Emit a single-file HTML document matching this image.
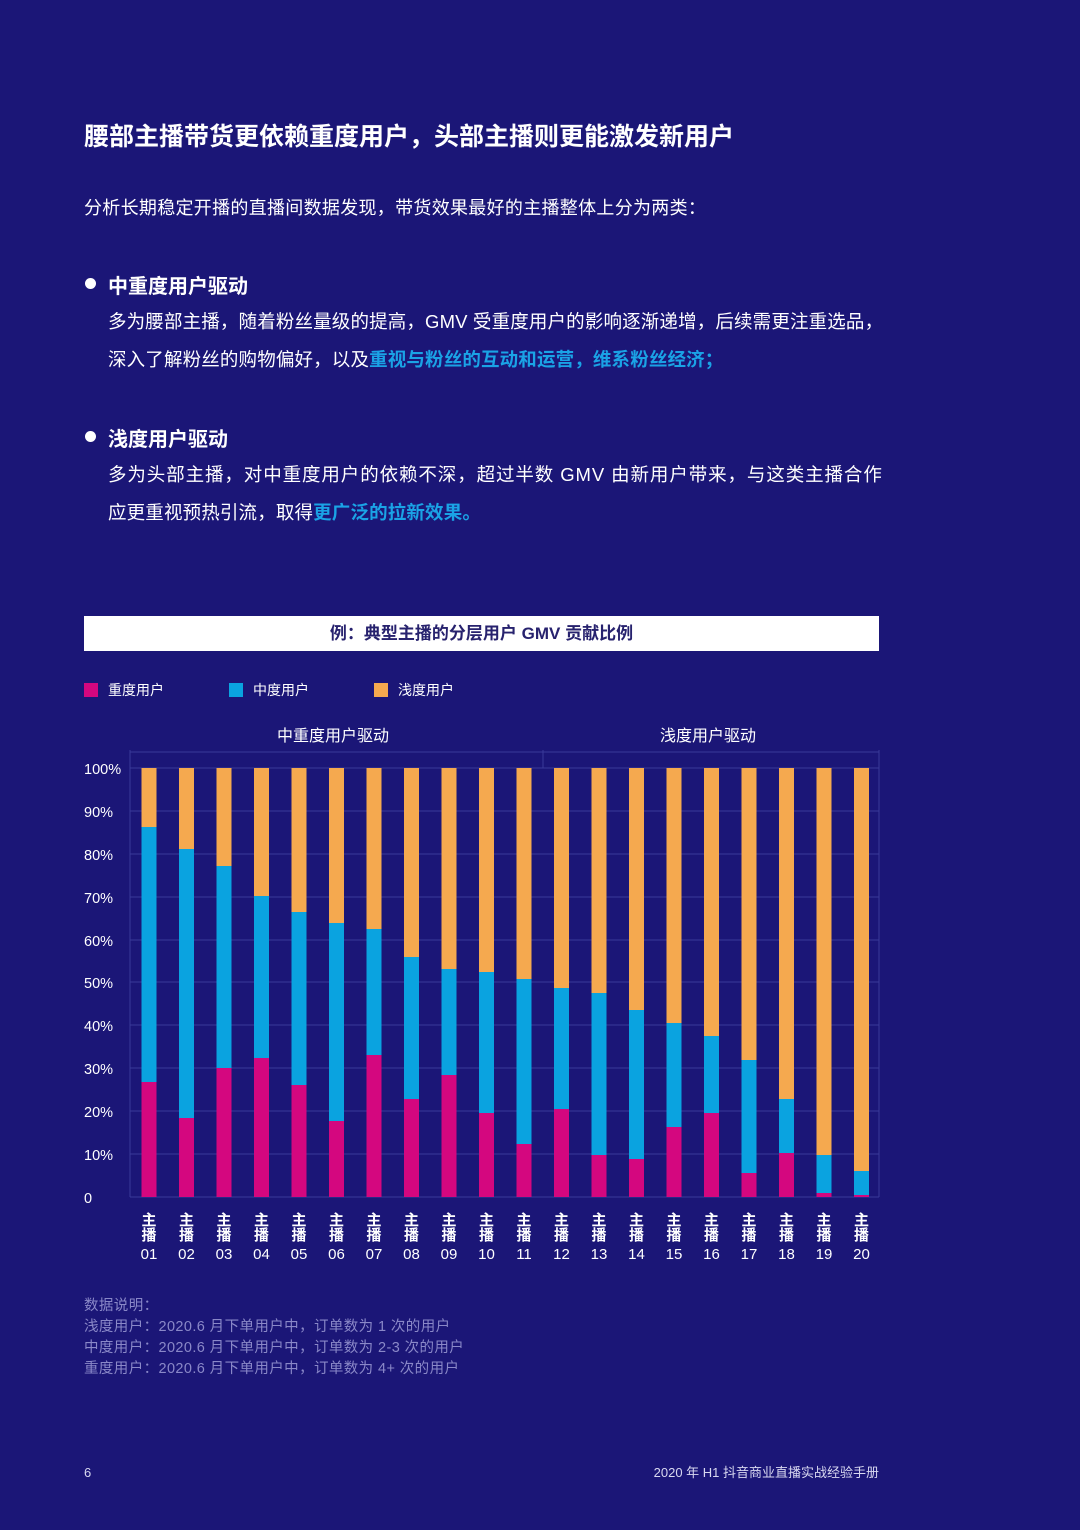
<!DOCTYPE html>
<html><head><meta charset="utf-8"><style>
*{margin:0;padding:0;box-sizing:border-box}
body{width:1080px;height:1530px;background:#1b1677;position:relative;overflow:hidden;font-family:"Liberation Sans","Noto Sans CJK SC",sans-serif;color:#fff}
.a{position:absolute;white-space:nowrap}
.h{color:#1aa3e6;font-weight:bold}
.dot{position:absolute;width:11px;height:11px;border-radius:50%;background:#fff}
</style></head><body>
<div class="a" style="left:84px;top:117px;font-size:25px;font-weight:bold">腰部主播带货更依赖重度用户，头部主播则更能激发新用户</div>
<div class="a" style="left:84px;top:194px;font-size:18px;letter-spacing:0.3px">分析长期稳定开播的直播间数据发现，带货效果最好的主播整体上分为两类：</div>
<div class="dot" style="left:85px;top:278px"></div>
<div class="a" style="left:108px;top:270px;font-size:20px;font-weight:bold">中重度用户驱动</div>
<div class="a" style="left:108px;top:308px;font-size:18.5px;letter-spacing:0.15px">多为腰部主播，随着粉丝量级的提高，GMV 受重度用户的影响逐渐递增，后续需更注重选品，</div>
<div class="a" style="left:108px;top:346px;font-size:18.5px;letter-spacing:0.15px">深入了解粉丝的购物偏好，以及<span class="h">重视与粉丝的互动和运营，维系粉丝经济；</span></div>
<div class="dot" style="left:85px;top:431px"></div>
<div class="a" style="left:108px;top:423px;font-size:20px;font-weight:bold">浅度用户驱动</div>
<div class="a" style="left:108px;top:461px;font-size:18.5px;letter-spacing:0.9px">多为头部主播，对中重度用户的依赖不深，超过半数 GMV 由新用户带来，与这类主播合作</div>
<div class="a" style="left:108px;top:499px;font-size:18.5px;letter-spacing:0.15px">应更重视预热引流，取得<span class="h">更广泛的拉新效果。</span></div>

<div class="a" style="left:84px;top:616px;width:795px;height:35px;background:#fff;color:#27226e;font-size:17px;font-weight:bold;text-align:center;line-height:35px">例：典型主播的分层用户 GMV 贡献比例</div>

<svg class="a" style="left:0;top:0" width="1080" height="1530" font-family="Liberation Sans,Noto Sans CJK SC,sans-serif">
<g font-size="14" fill="#fff">
<rect x="84" y="683" width="14" height="14" fill="#d4077f"/><text x="108" y="695">重度用户</text>
<rect x="229" y="683" width="14" height="14" fill="#0aa3e0"/><text x="253" y="695">中度用户</text>
<rect x="374" y="683" width="14" height="14" fill="#f5a94f"/><text x="398" y="695">浅度用户</text>
</g>
<g font-size="16" fill="#fff" text-anchor="middle">
<text x="333" y="741">中重度用户驱动</text><text x="708" y="741">浅度用户驱动</text>
</g>
<g stroke="#3a3a9a" stroke-width="1">
<line x1="130" y1="752" x2="879" y2="752"/><line x1="543" y1="750" x2="543" y2="768"/><line x1="879" y1="750" x2="879" y2="1197"/>
<line x1="130" y1="750" x2="130" y2="1197"/>
<line x1="130" y1="768" x2="879" y2="768"/><line x1="130" y1="811" x2="879" y2="811"/><line x1="130" y1="854" x2="879" y2="854"/><line x1="130" y1="897" x2="879" y2="897"/><line x1="130" y1="940" x2="879" y2="940"/><line x1="130" y1="982" x2="879" y2="982"/><line x1="130" y1="1025" x2="879" y2="1025"/><line x1="130" y1="1068" x2="879" y2="1068"/><line x1="130" y1="1111" x2="879" y2="1111"/><line x1="130" y1="1154" x2="879" y2="1154"/><line x1="130" y1="1197" x2="879" y2="1197"/>
</g>
<g font-size="14.5" fill="#fff">
<text x="84" y="774">100%</text><text x="84" y="817">90%</text><text x="84" y="860">80%</text><text x="84" y="903">70%</text><text x="84" y="946">60%</text><text x="84" y="988">50%</text><text x="84" y="1031">40%</text><text x="84" y="1074">30%</text><text x="84" y="1117">20%</text><text x="84" y="1160">10%</text><text x="84" y="1203">0</text>
</g>
<g id="bars"></g>
<g id="labs" font-size="15" fill="#fff" text-anchor="middle" font-weight="bold"></g>
<g font-size="14.5" fill="#8a88c8" letter-spacing="0.4">
<text x="84" y="1310">数据说明：</text>
<text x="84" y="1331">浅度用户：2020.6 月下单用户中，订单数为 1 次的用户</text>
<text x="84" y="1352">中度用户：2020.6 月下单用户中，订单数为 2-3 次的用户</text>
<text x="84" y="1373">重度用户：2020.6 月下单用户中，订单数为 4+ 次的用户</text>
</g>
<g font-size="13" fill="#d8d8f0">
<text x="84" y="1477">6</text>
<text x="879" y="1477" text-anchor="end">2020 年 H1 抖音商业直播实战经验手册</text>
</g>
</svg>
<script>
var d=[[827,1082],[849,1118],[866,1068],[896,1058],[912,1085],[923,1121],[929,1055],[957,1099],[969,1075],[972,1113],[979,1144],[988,1109],[993,1155],[1010,1159],[1023,1127],[1036,1113],[1060,1173],[1099,1153],[1155,1193],[1171,1195]];
var b='',l='';
for(var i=0;i<20;i++){var c=149+i*37.5,x=c-7.5,m=d[i][0],h=d[i][1];
b+='<rect x="'+x+'" y="768" width="15" height="'+(m-768)+'" fill="#f5a94f"/>';
b+='<rect x="'+x+'" y="'+m+'" width="15" height="'+(h-m)+'" fill="#0aa3e0"/>';
b+='<rect x="'+x+'" y="'+h+'" width="15" height="'+(1197-h)+'" fill="#d4077f"/>';
var n=(i<9?'0':'')+(i+1);
l+='<text x="'+c+'" y="1225">主</text><text x="'+c+'" y="1240">播</text><text x="'+c+'" y="1259" font-weight="normal">'+n+'</text>';}
document.getElementById('bars').innerHTML=b;document.getElementById('labs').innerHTML=l;
</script>
</body></html>
